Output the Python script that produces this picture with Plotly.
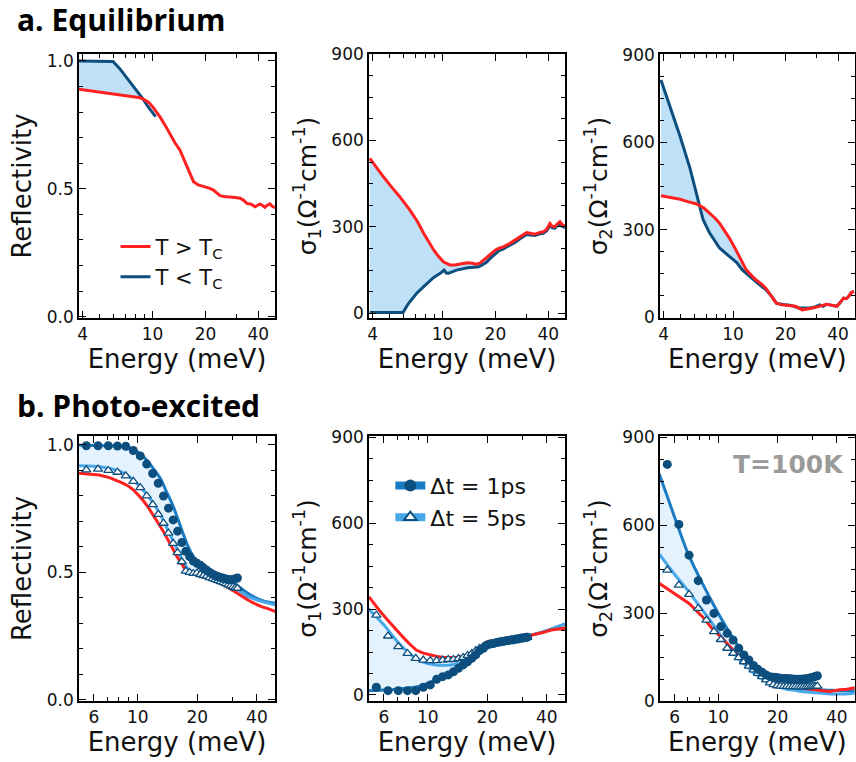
import numpy as np
import plotly.graph_objects as go

# ---------------- colours ----------------
RED = "#ff2020"
NAVY = "#0c4e7e"
BLUE1 = "#1b7cc3"
BLUE5 = "#47a7e8"
FILL_A = "#bfe1f7"
FILL_B = "#e3f2fc"

# ---------------- a. Equilibrium ----------------
# Reflectivity, T > Tc
E_Rn = [3.8, 4.5, 5.2, 6.0, 7.0, 8.0, 8.5, 8.9, 9.5, 10.0, 11.0, 11.8, 12.6, 13.4, 14.3, 15.0, 15.6,
        16.3, 17.1, 18.2, 19.0, 20.0, 21.0, 22.2, 23.2, 24.2, 25.5, 27.6, 29.5, 31.5, 33.0, 34.4,
        36.5, 38.3, 40.9, 42.2, 43.6, 45.0, 46.6, 48.0, 49.8]
R_n = [0.889, 0.882, 0.877, 0.873, 0.866, 0.860, 0.856, 0.850, 0.838, 0.821, 0.782, 0.748, 0.711,
       0.680, 0.652, 0.620, 0.587, 0.560, 0.528, 0.515, 0.511, 0.508, 0.503, 0.495, 0.483, 0.473,
       0.470, 0.469, 0.466, 0.463, 0.455, 0.443, 0.440, 0.430, 0.441, 0.435, 0.428, 0.436, 0.441,
       0.432, 0.426]
# Reflectivity, T < Tc
E_Rs = [3.8, 4.5, 5.2, 5.95, 6.5, 7.0, 7.45, 8.0, 8.7, 9.4, 10.0, 10.4]
R_s = [1.0, 1.0, 1.0, 0.998, 0.970, 0.941, 0.918, 0.892, 0.857, 0.822, 0.797, 0.782]

# sigma1, T > Tc
E_s1n = [3.85, 4.2, 4.6, 5.1, 5.7, 6.5, 7.2, 7.8, 8.4, 8.9, 9.5, 10.1, 11.0, 11.8, 12.6, 13.9,
         14.8, 15.6, 16.4, 17.1, 18.0, 19.0, 20.0, 21.0, 22.2, 24.2, 25.8, 27.6, 29.0, 30.1, 31.5,
         33.6, 35.8, 37.5, 39.2, 40.9, 42.2, 43.6, 45.0, 46.6, 48.0, 49.8]
s1_n = [538, 505, 474, 440, 405, 359, 318, 278, 245, 220, 197, 179, 168, 168, 171, 176, 174, 171,
        175, 185, 198, 210, 220, 226, 231, 243, 253, 266, 272, 280, 278, 275, 281, 283, 292, 312,
        302, 301, 310, 318, 308, 303]
# sigma1, T < Tc
E_s1s = [3.85, 4.5, 5.2, 5.95, 6.4, 7.1, 7.8, 8.4, 8.9, 9.7, 10.2, 10.5, 10.8, 12.0, 13.9, 16.1,
         17.7, 19.0, 20.0, 21.0, 22.2, 24.2, 25.8, 27.6, 29.0, 30.1, 31.5, 33.6, 35.8, 37.5, 39.2,
         40.9, 42.2, 43.6, 45.0, 46.6, 48.0, 49.8]
s1_s = [3, 3, 3, 3, 35, 69, 93, 112, 125, 139, 150, 140, 139, 150, 158, 162, 176, 195, 208, 218,
        224, 236, 246, 259, 266, 274, 272, 270, 276, 278, 287, 305, 297, 296, 304, 312, 302, 298]

# sigma2, T > Tc
E_s2n = [3.86, 4.4, 4.97, 5.5, 6.17, 6.8, 7.34, 7.9, 8.36, 8.9, 9.52, 10.2, 10.9, 11.9, 12.7, 13.5,
         14.5, 15.4, 16.5, 17.7, 19.0, 20.0, 21.5, 22.8, 24.9, 26.5, 28.5, 30.5, 32.9, 34.3, 35.8,
         37.5, 39.3, 41.0, 43.0, 44.5, 46.0, 47.5, 49.3]
s2_n = [417, 412, 405, 397, 389, 375, 357, 340, 323, 300, 272, 240, 209, 163, 145, 129, 115, 100,
        75, 49, 43, 41, 40, 38, 26, 28, 32, 36, 42, 45, 43, 40, 38, 50, 66, 64, 72, 85, 89]
# sigma2, T < Tc
E_s2s = [3.86, 4.36, 4.97, 5.66, 6.3, 6.73, 7.34, 8.36, 9.52, 10.0, 10.2, 10.5, 11.3, 12.3, 13.5,
         15.4, 16.5, 17.7, 19.0, 20.0, 21.5, 23.8, 25.5, 27.5, 29.5, 31.4, 32.9, 34.3, 35.8, 37.5,
         39.3, 41.0, 43.0, 44.5, 46.0, 47.5, 49.3]
s2_s = [814, 723, 620, 512, 403, 335, 289, 238, 209, 198, 192, 188, 163, 143, 123, 95, 75, 49, 44,
        43, 41, 32, 32, 32, 36, 43, 38, 45, 43, 40, 38, 50, 66, 64, 72, 85, 89]

# ---------------- b. Photo-excited ----------------
# measured points (common energies)
E_pts = [5.5, 6.3, 7.1, 7.9, 8.7, 9.5, 10.3, 11.1, 11.9, 12.7, 13.5, 14.3, 15.1, 15.9, 16.7, 17.5,
         18.3, 19.1, 19.9, 20.7, 21.5, 22.3, 23.1, 23.9, 24.7, 25.5, 26.3, 27.1, 27.9, 28.7, 29.5,
         30.3, 31.1, 31.9]
R_1ps = [0.997, 0.997, 0.997, 0.996, 0.995, 0.978, 0.957, 0.925, 0.888, 0.850, 0.800, 0.752, 0.706,
         0.662, 0.617, 0.583, 0.562, 0.545, 0.536, 0.528, 0.518, 0.509, 0.500, 0.493, 0.487, 0.483,
         0.480, 0.477, 0.474, 0.472, 0.471, 0.472, 0.475, 0.478]
R_5ps = [0.902, 0.905, 0.900, 0.893, 0.879, 0.857, 0.833, 0.800, 0.766, 0.728, 0.693, 0.654, 0.614,
         0.578, 0.542, 0.505, 0.500, 0.496, 0.497, 0.492, 0.488, 0.485, 0.480, 0.476, 0.472, 0.468,
         0.464, 0.460, 0.456, 0.451, 0.447, 0.443, 0.440, 0.438]
s1_1ps = [27, 15, 15, 15, 15, 27, 35, 55, 64, 70, 81, 93, 105, 116, 128, 140, 155, 163, 174, 178,
          180, 183, 185, 187, 189, 190, 192, 193, 195, 196, 198, 199, 201, 202]
s1_5ps = [279, 206, 169, 145, 128, 122, 120, 120, 122, 124, 124, 127, 131, 138, 145, 155, 163, 169,
          173, 178, 180, 183, 185, 187, 189, 190, 192, 193, 195, 196, 198, 199, 200, 201]
s2_1ps = [808, 603, 498, 411, 345, 299, 254, 231, 208, 180, 157, 140, 121, 108, 98, 89, 83, 81, 80,
          78, 77, 77, 76, 75, 74, 74, 74, 75, 76, 77, 79, 81, 84, 86]
s2_5ps = [447, 396, 364, 316, 276, 237, 210, 180, 163, 148, 134, 119, 106, 94, 83, 72, 62, 56, 52,
          51, 50, 50, 49, 49, 49, 48, 48, 48, 48, 49, 49, 50, 50, 51]

# model fits (common energies)
E_fit = [5.0, 6.0, 7.0, 8.0, 9.0, 10.0, 11.0, 12.0, 13.0, 14.0, 15.0, 16.0, 17.0, 18.0, 19.0, 20.0,
         22.0, 24.0, 26.0, 28.0, 30.0, 33.0, 36.0, 40.0, 44.0, 49.5]
Rfit_1ps = [0.999, 0.998, 0.997, 0.995, 0.990, 0.972, 0.944, 0.907, 0.869, 0.815, 0.765, 0.707,
            0.650, 0.600, 0.565, 0.542, 0.520, 0.503, 0.492, 0.478, 0.463, 0.440, 0.418, 0.398,
            0.386, 0.379]
Rfit_5ps = [0.918, 0.916, 0.910, 0.899, 0.877, 0.845, 0.810, 0.771, 0.727, 0.675, 0.628, 0.583,
            0.540, 0.512, 0.500, 0.494, 0.486, 0.476, 0.465, 0.454, 0.442, 0.424, 0.405, 0.392,
            0.383, 0.373]
s1fit_1ps = [15, 17, 20, 24, 30, 40, 52, 64, 76, 90, 102, 118, 132, 147, 160, 169, 183, 192, 197,
             201, 204, 209, 215, 225, 235, 248]
s1fit_5ps = [302, 245, 188, 148, 122, 110, 105, 104, 105, 108, 114, 124, 136, 150, 163, 174, 186,
             193, 198, 202, 205, 209, 215, 225, 235, 248]
s2fit_1ps = [777, 627, 505, 423, 356, 299, 251, 210, 176, 144, 119, 99, 86, 74, 65, 58, 50, 46, 43,
             41, 39, 38, 37, 36, 35, 35]
s2fit_5ps = [502, 432, 377, 325, 279, 236, 196, 165, 136, 118, 97, 84, 72, 62, 56, 50, 41, 37, 33,
             31, 29, 27, 25, 24, 24, 26]

# equilibrium (T > Tc) reference curves in panel b
E_bRn = [5.05, 5.7, 6.38, 7.2, 8.0, 8.4, 9.0, 9.5, 10.0, 10.6, 11.3, 12.0, 12.7, 13.5, 14.0, 14.6,
         15.2, 15.8, 16.6, 17.4, 18.2, 19.0, 20.0, 22.5, 24.3, 26.3, 28.5, 30.8, 33.3, 36.0, 39.0,
         42.1, 45.8, 49.9]
bR_n = [0.889, 0.886, 0.882, 0.872, 0.858, 0.850, 0.838, 0.824, 0.806, 0.784, 0.755, 0.725, 0.693,
        0.660, 0.637, 0.614, 0.588, 0.562, 0.536, 0.510, 0.498, 0.494, 0.490, 0.477, 0.468, 0.458,
        0.442, 0.425, 0.408, 0.392, 0.378, 0.366, 0.357, 0.346]
E_bs1n = [5.05, 5.67, 6.38, 7.0, 7.48, 8.1, 8.75, 9.5, 10.2, 11.0, 12.0, 13.0, 14.0, 15.0, 16.4,
          17.5, 18.5, 19.3, 20.0, 21.0, 22.5, 24.5, 26.3, 28.5, 30.8, 33.0, 36.0, 39.0, 42.0, 44.0,
          46.0, 49.9]
bs1_n = [343, 297, 256, 224, 203, 178, 157, 146, 140, 135, 131, 131, 131, 135, 145, 157, 169, 180,
         186, 189, 190, 194, 198, 201, 203, 208, 213, 220, 227, 229, 231, 234]
E_bs2n = [5.0, 5.6, 6.3, 7.1, 8.3, 9.3, 10.5, 12.3, 14.4, 16.8, 18.5, 20.0, 23.0, 26.9, 31.5, 36.9,
          41.5, 45.0, 49.6]
bs2_n = [402, 379, 356, 333, 288, 248, 214, 163, 123, 83, 66, 60, 49, 43, 38, 32, 38, 40, 45]

# ---------------- figure ----------------
FONT = "DejaVu Sans"
fig = go.Figure()


def ids(n):
    return ("x" if n == 1 else f"x{n}"), ("y" if n == 1 else f"y{n}")


def band(xa, ya, xb, yb, xmax):
    """polygon between two curves (interpolated on a log-energy grid) up to xmax"""
    grid = sorted(set([v for v in list(xa) + list(xb) if v <= xmax] + [xmax]))
    lg = np.log10(grid)
    ya_i = np.interp(lg, np.log10(xa), ya)
    yb_i = np.interp(lg, np.log10(xb), yb)
    return grid + grid[::-1], list(ya_i) + list(yb_i[::-1])


# --- top panels ---
top = [
    (1, E_Rn, R_n, E_Rs, R_s, 8.8),
    (2, E_s1n, s1_n, E_s1s, s1_s, 20.0),
    (3, E_s2n, s2_n, E_s2s, s2_s, 12.0),
]
for n, xn, yn, xs, ys, xmax in top:
    xa, ya = ids(n)
    px, py = band(xs, ys, xn, yn, xmax)
    fig.add_trace(go.Scatter(x=px, y=py, fill="toself", fillcolor=FILL_A, mode="none",
                             showlegend=False, hoverinfo="skip", xaxis=xa, yaxis=ya))
    fig.add_trace(go.Scatter(x=xs, y=ys, mode="lines", line=dict(color=NAVY, width=3),
                             showlegend=False, xaxis=xa, yaxis=ya))
    fig.add_trace(go.Scatter(x=xn, y=yn, mode="lines", line=dict(color=RED, width=3),
                             showlegend=False, xaxis=xa, yaxis=ya))

# legend-only entries for panel a
fig.add_trace(go.Scatter(x=[None], y=[None], mode="lines", name="T > T<sub>C</sub>",
                         line=dict(color=RED, width=3), legend="legend", xaxis="x", yaxis="y"))
fig.add_trace(go.Scatter(x=[None], y=[None], mode="lines", name="T < T<sub>C</sub>",
                         line=dict(color=NAVY, width=3), legend="legend", xaxis="x", yaxis="y"))

# --- bottom panels ---
bottom = [
    (4, Rfit_1ps, Rfit_5ps, E_bRn, bR_n, R_1ps, R_5ps),
    (5, s1fit_1ps, s1fit_5ps, E_bs1n, bs1_n, s1_1ps, s1_5ps),
    (6, s2fit_1ps, s2fit_5ps, E_bs2n, bs2_n, s2_1ps, s2_5ps),
]
for n, f1, f5, xr, yr, d1, d5 in bottom:
    xa, ya = ids(n)
    fig.add_trace(go.Scatter(x=E_fit, y=f1, mode="lines", line=dict(color=BLUE1, width=3, shape="spline"),
                             showlegend=False, xaxis=xa, yaxis=ya))
    fig.add_trace(go.Scatter(x=E_fit, y=f5, mode="lines", line=dict(color=BLUE5, width=3, shape="spline"),
                             fill="tonexty", fillcolor=FILL_B, showlegend=False, xaxis=xa, yaxis=ya))
    fig.add_trace(go.Scatter(x=xr, y=yr, mode="lines", line=dict(color=RED, width=3),
                             showlegend=False, xaxis=xa, yaxis=ya))
    fig.add_trace(go.Scatter(x=E_pts, y=d5, mode="markers",
                             marker=dict(symbol="triangle-up", size=8, color="white",
                                         line=dict(color=NAVY, width=1.3)),
                             showlegend=False, xaxis=xa, yaxis=ya))
    fig.add_trace(go.Scatter(x=E_pts, y=d1, mode="markers",
                             marker=dict(symbol="circle", size=9, color=NAVY),
                             showlegend=False, xaxis=xa, yaxis=ya))

# legend-only entries for panel b
fig.add_trace(go.Scatter(x=[None], y=[None], mode="lines+markers", name="Δt = 1ps",
                         line=dict(color=BLUE1, width=8),
                         marker=dict(symbol="circle", size=12, color=NAVY),
                         legend="legend2", xaxis="x5", yaxis="y5"))
fig.add_trace(go.Scatter(x=[None], y=[None], mode="lines+markers", name="Δt = 5ps",
                         line=dict(color=BLUE5, width=8),
                         marker=dict(symbol="triangle-up", size=11, color="white",
                                     line=dict(color=NAVY, width=2)),
                         legend="legend2", xaxis="x5", yaxis="y5"))

# ---------------- axes ----------------
cols = [[0.0923, 0.3213], [0.4311, 0.6600], [0.7710, 0.9985]]
rows = {"top": [0.5827, 0.9291], "bot": [0.0801, 0.4278]}

tickstyle = dict(ticks="inside", ticklen=7, tickwidth=1.3, tickcolor="black",
                 showline=True, linecolor="black", linewidth=1.6, mirror="allticks",
                 showgrid=False, zeroline=False, automargin=False,
                 tickfont=dict(family=FONT, size=17, color="#111"))
minor_style = dict(ticks="inside", ticklen=4, tickwidth=1.2, tickcolor="black", showgrid=False)

ylabels = ["Reflectivity", "σ<sub>1</sub>(Ω<sup>-1</sup>cm<sup>-1</sup>)",
           "σ<sub>2</sub>(Ω<sup>-1</sup>cm<sup>-1</sup>)"]
ylabel_size = [26, 25, 25]
yranges_top = [[-0.005, 1.027], [-16, 900], [-2, 903]]
yranges_bot = [[-0.004, 1.035], [-21, 905], [0, 905]]

layout_axes = {}
for i in range(6):
    n = i + 1
    c = i % 3
    r = "top" if i < 3 else "bot"
    xk = "xaxis" if n == 1 else f"xaxis{n}"
    yk = "yaxis" if n == 1 else f"yaxis{n}"
    xa, ya = ids(n)
    if r == "top":
        xt = dict(range=[np.log10(3.81), np.log10(49.8)], tickvals=[4, 10, 20, 40],
                  ticktext=["4", "10", "20", "40"],
                  minor=dict(tickmode="array", tickvals=[5, 6, 7, 8, 9, 30], **minor_style))
    else:
        xt = dict(range=[np.log10(5.05), np.log10(49.4)], tickvals=[6, 10, 20, 40],
                  ticktext=["6", "10", "20", "40"],
                  minor=dict(tickmode="array", tickvals=[7, 8, 9, 30], **minor_style))
    layout_axes[xk] = dict(type="log", domain=cols[c], anchor=ya,
                           title=dict(text="Energy (meV)", font=dict(family=FONT, size=26, color="#111"),
                                      standoff=4),
                           **xt, **tickstyle)
    if c == 0:
        yt = dict(tickvals=[0, 0.5, 1.0], ticktext=["0.0", "0.5", "1.0"],
                  minor=dict(tickmode="linear", tick0=0, dtick=0.1, **minor_style))
    else:
        yt = dict(tickvals=[0, 300, 600, 900], ticktext=["0", "300", "600", "900"],
                  minor=dict(tickmode="linear", tick0=0, dtick=75, **minor_style))
    yr = yranges_top[c] if r == "top" else yranges_bot[c]
    layout_axes[yk] = dict(domain=rows[r], anchor=xa, range=yr,
                           title=dict(text=ylabels[c],
                                      font=dict(family=FONT, size=ylabel_size[c], color="#111"),
                                      standoff=8),
                           **yt, **tickstyle)

fig.update_layout(**layout_axes)

fig.update_layout(
    width=856, height=762,
    margin=dict(l=0, r=0, t=0, b=0, autoexpand=False),
    paper_bgcolor="white", plot_bgcolor="white",
    font=dict(family=FONT, color="#111"),
    legend=dict(x=0.135, y=0.703, xanchor="left", yanchor="top", bgcolor="rgba(0,0,0,0)",
                font=dict(family=FONT, size=21, color="#111"), itemwidth=30,
                traceorder="normal", tracegroupgap=0),
    legend2=dict(x=0.456, y=0.390, xanchor="left", yanchor="top", bgcolor="rgba(0,0,0,0)",
                 font=dict(family=FONT, size=22, color="#111"), itemwidth=30,
                 traceorder="normal"),
    annotations=[
        dict(text="<b>a. Equilibrium</b>", xref="paper", yref="paper", x=0.018, y=0.975,
             xanchor="left", yanchor="middle", showarrow=False,
             font=dict(family="Open Sans", size=30, color="black")),
        dict(text="<b>b. Photo-excited</b>", xref="paper", yref="paper", x=0.018, y=0.4685,
             xanchor="left", yanchor="middle", showarrow=False,
             font=dict(family="Open Sans", size=30, color="black")),
        dict(text="<b>T=100K</b>", xref="paper", yref="paper", x=0.988, y=0.3898,
             xanchor="right", yanchor="middle", showarrow=False,
             font=dict(family=FONT, size=25, color="#9a9a9a")),
    ],
)

fig.write_html("out.html")
